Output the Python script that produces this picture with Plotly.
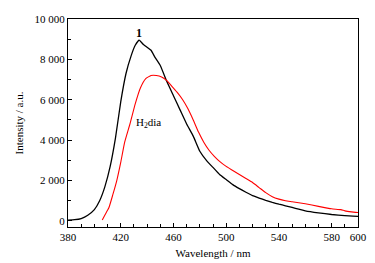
import plotly.graph_objects as go

# Complex 1 (black)
wl_1 = [380, 385, 390, 395, 400, 404, 408, 412, 416, 420, 424, 428, 431, 434, 437, 440,
        443, 446, 450, 455, 460, 465, 470, 475, 480, 485, 490, 495, 500, 505, 510, 515,
        520, 525, 530, 535, 540, 545, 550, 555, 560, 570, 580, 590, 600]
int_1 = [40, 60, 120, 280, 560, 1000, 1700, 2700, 4100, 5900, 7300, 8200, 8700, 8950, 8750, 8600,
         8450, 8100, 7700, 6900, 6200, 5500, 4800, 4200, 3450, 3000, 2650, 2300, 2050, 1800, 1600, 1420,
         1250, 1130, 1020, 920, 830, 750, 670, 580, 500, 400, 320, 260, 230]

# H2dia (red)
wl_h2 = [406, 408, 411, 414, 417, 420, 423, 427, 431, 435, 439, 443, 447, 451, 455, 459,
         463, 467, 471, 475, 479, 483, 487, 491, 495, 500, 505, 510, 515, 520, 525, 530,
         535, 540, 545, 550, 560, 570, 580, 587, 590, 595, 600]
int_h2 = [50, 300, 650, 1300, 2000, 2900, 3900, 4800, 5800, 6600, 7050, 7200, 7200, 7130, 6950, 6650,
          6350, 6000, 5550, 5000, 4400, 3900, 3500, 3200, 2950, 2700, 2500, 2300, 2100, 1900, 1650, 1400,
          1200, 1080, 1000, 950, 850, 720, 600, 560, 500, 450, 420]

x_ticks = [380, 420, 460, 500, 540, 580, 600]
y_ticks = [0, 2000, 4000, 6000, 8000, 10000]
y_ticktext = ["0", "2 000", "4 000", "6 000", "8 000", "10 000"]

font_family = "Liberation Serif, Times New Roman, serif"

fig = go.Figure()
fig.add_trace(go.Scatter(x=wl_1, y=int_1, mode="lines",
                         line=dict(color="#000000", width=1.3, shape="spline", smoothing=0.4),
                         showlegend=False))
fig.add_trace(go.Scatter(x=wl_h2, y=int_h2, mode="lines",
                         line=dict(color="#ff0000", width=1.1, shape="spline", smoothing=0.4),
                         showlegend=False))

fig.add_annotation(x=433.6, y=9290, text="<b>1</b>", showarrow=False,
                   font=dict(family=font_family, size=12, color="#000"))
fig.add_annotation(x=441.2, y=4865, text="H<sub>2</sub>dia", showarrow=False,
                   font=dict(family=font_family, size=11, color="#000"))

# page body has an 8px default margin, so the figure is sized/offset to compensate
fig.update_layout(
    width=367, height=255,
    margin=dict(l=60, r=17, t=5, b=32),
    paper_bgcolor="white", plot_bgcolor="white",
    font=dict(family=font_family, size=11, color="#000"),
    xaxis=dict(range=[380, 600], tickvals=x_ticks, ticks="inside", ticklen=4,
               tickcolor="#000", showline=True, linecolor="#000", linewidth=1,
               mirror=True, showgrid=False, zeroline=False, ticklabeloverflow="allow",
               minor=dict(dtick=10, tick0=380, ticks="inside", ticklen=3, tickcolor="#000"),
               title=dict(text="Wavelength / nm", standoff=7, font=dict(size=11))),
    yaxis=dict(range=[-300, 10000], tickvals=y_ticks, ticktext=y_ticktext,
               ticks="inside", ticklen=4, tickcolor="#000",
               showline=True, linecolor="#000", linewidth=1, mirror=True,
               showgrid=False, zeroline=False, ticklabeloverflow="allow",
               minor=dict(dtick=1000, tick0=0, ticks="inside", ticklen=3, tickcolor="#000"),
               title=dict(text="Intensity / a.u.", standoff=8, font=dict(size=11))),
)

fig.write_html("out.html")
